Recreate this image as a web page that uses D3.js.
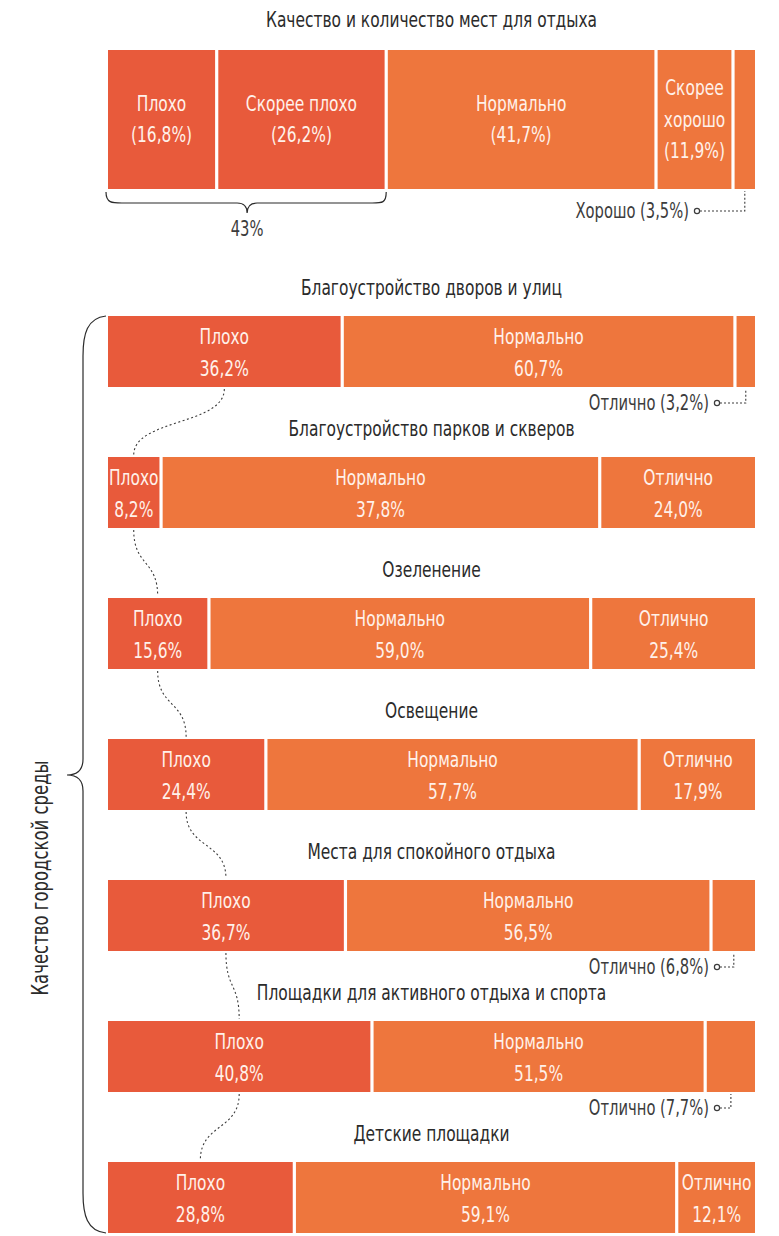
<!DOCTYPE html>
<html><head><meta charset="utf-8">
<script src="https://cdn.jsdelivr.net/npm/d3@7"></script>
<style>
html,body{margin:0;padding:0;background:#fff;}
svg{display:block;}
text{font-family:"Liberation Sans Narrow","DejaVu Sans Condensed","Liberation Sans",sans-serif;font-stretch:condensed;}
</style></head>
<body>
<svg id="chart" width="779" height="1236"></svg>
<script>
// ---- data ----
const topTitle = "Качество и количество мест для отдыха";
const topCategories = ["Плохо", "Скорее плохо", "Нормально", "Скорее хорошо", "Хорошо"];
const topValues = [16.8, 26.2, 41.7, 11.9, 3.5];
const topLabels = [["Плохо","(16,8%)"], ["Скорее плохо","(26,2%)"], ["Нормально","(41,7%)"], ["Скорее","хорошо","(11,9%)"], []];
const topCallout = "Хорошо (3,5%)";
const topBraceLabel = "43%";

const rowTitles = ["Благоустройство дворов и улиц", "Благоустройство парков и скверов", "Озеленение", "Освещение", "Места для спокойного отдыха", "Площадки для активного отдыха и спорта", "Детские площадки"];
const rowCategories = ["Плохо", "Нормально", "Отлично"];
const badValues = [36.2, 8.2, 15.6, 24.4, 36.7, 40.8, 28.8];
const normalValues = [60.7, 67.8, 59.0, 57.7, 56.5, 51.5, 59.1];
const excellentValues = [3.2, 24.0, 25.4, 17.9, 6.8, 7.7, 12.1];
const badLabels = ["36,2%", "8,2%", "15,6%", "24,4%", "36,7%", "40,8%", "28,8%"];
const normalLabels = ["60,7%", "37,8%", "59,0%", "57,7%", "56,5%", "51,5%", "59,1%"];
const excellentLabels = ["3,2%", "24,0%", "25,4%", "17,9%", "6,8%", "7,7%", "12,1%"];
const inlineExcellent = [false, true, true, true, false, false, true];
const sideLabel = "Качество городской среды";

// ---- style ----
const RED = "#E85A3B", ORANGE = "#EE763D", TXT_IN = "#fff1ea", DARK = "#2b2b2b", GREY = "#3c3c3c";
const SX = 0.78;
const FS = 22;
const svg = d3.select("#chart");
const x = d3.scaleLinear().domain([0, 100]).range([108, 755]);
const GAP = 1.6;

function txt(g, s, cx, cy, size, fill, anchor) {
  return g.append("text").attr("transform", `translate(${cx},${cy}) scale(${SX},1)`)
    .attr("text-anchor", anchor || "middle").attr("dominant-baseline", "central")
    .attr("font-size", size).attr("fill", fill).text(s);
}

function stack(vals) {
  let c = 0;
  return vals.map(v => { const s = c; c += v; return [s, c]; });
}

function segRect(g, s, e, i, n, y, h, color) {
  const x0 = x(s) + (i > 0 ? GAP : 0);
  const x1 = Math.min(x(e), x(100)) - (i < n - 1 ? GAP : 0);
  g.append("rect").attr("x", x0).attr("y", y).attr("width", Math.max(0, x1 - x0)).attr("height", h).attr("fill", color);
  return (x0 + x1) / 2;
}

function callout(g, label, segCx, barBottom, cy, circX) {
  g.append("path").attr("d", `M${circX + 3},${cy} H${segCx} V${barBottom + 2}`)
    .attr("fill", "none").attr("stroke", GREY).attr("stroke-width", 1.1).attr("stroke-dasharray", "2,2");
  g.append("circle").attr("cx", circX).attr("cy", cy).attr("r", 2.6).attr("fill", "#fff").attr("stroke", GREY).attr("stroke-width", 1.2);
  txt(g, label, circX - 8, cy, 21, GREY, "end");
}

// ---- top chart ----
const gt = svg.append("g");
txt(gt, topTitle, x(50), 20, FS, DARK);
const topY = 50, topH = 139;
const topStack = stack(topValues);
const topColor = d3.scaleOrdinal().domain(topCategories).range([RED, RED, ORANGE, ORANGE, ORANGE]);
let topCx = [];
topStack.forEach(([s, e], i) => {
  const cx = segRect(gt, s, e, i, topStack.length, topY, topH, topColor(topCategories[i]));
  topCx.push(cx);
  const lines = topLabels[i];
  const lh = 31.5;
  lines.forEach((l, j) => {
    txt(gt, l, cx, topY + topH / 2 + (j - (lines.length - 1) / 2) * lh, FS, TXT_IN);
  });
});
callout(gt, topCallout, topCx[4], topY + topH, 211, x(0) + 589);
// brace under first two
{
  const a = x(0), b = x(topStack[1][1]), m = (a + b) / 2, yb = 192, yl = 203, yt = 213;
  gt.append("path").attr("d",
    `M${a - 2},${yb} C${a - 2},${yl} ${a + 4},${yl} ${a + 14},${yl} L${m - 10},${yl} C${m - 4},${yl} ${m},${yl + 3} ${m},${yt} C${m},${yl + 3} ${m + 4},${yl} ${m + 10},${yl} L${b - 14},${yl} C${b - 4},${yl} ${b},${yl} ${b},${yb}`)
    .attr("fill", "none").attr("stroke", DARK).attr("stroke-width", 1.2);
  txt(gt, topBraceLabel, m, 229, 21, GREY);
}

// ---- rows ----
const rowY = d3.scaleLinear().domain([0, 6]).range([316, 1162]);
const rowH = 71;
const rowColor = d3.scaleOrdinal().domain(rowCategories).range([RED, ORANGE, ORANGE]);
const gr = svg.append("g");
const badCenters = [];
rowTitles.forEach((t, r) => {
  const y0 = rowY(r);
  txt(gr, t, x(50), y0 - 28, FS, DARK);
  const vals = [badValues[r], normalValues[r], excellentValues[r]];
  const labs = [badLabels[r], normalLabels[r], excellentLabels[r]];
  const st = stack(vals);
  st.forEach(([s, e], i) => {
    const cx = segRect(gr, s, e, i, 3, y0, rowH, rowColor(rowCategories[i]));
    if (i === 0) badCenters.push(cx);
    if (i < 2 || inlineExcellent[r]) {
      txt(gr, rowCategories[i], cx, y0 + rowH / 2 - 15, FS, TXT_IN);
      txt(gr, labs[i], cx, y0 + rowH / 2 + 17, FS, TXT_IN);
    } else {
      callout(gr, rowCategories[i] + " (" + labs[i] + ")", cx, y0 + rowH, y0 + rowH + 16, x(100) - 38);
    }
  });
});
// dotted connectors between "Плохо" segments
for (let r = 0; r < rowTitles.length - 1; r++) {
  const x1 = badCenters[r], y1 = rowY(r) + rowH + 2, x2 = badCenters[r + 1], y2 = rowY(r + 1) - 2;
  const k = (y2 - y1) * 0.55;
  gr.append("path").attr("d", `M${x1},${y1} C${x1},${y1 + k} ${x2},${y2 - k} ${x2},${y2}`)
    .attr("fill", "none").attr("stroke", GREY).attr("stroke-width", 1.1).attr("stroke-dasharray", "2,2.5");
}
// left brace
{
  const top = rowY(0), bot = rowY(6) + rowH, xv = 83, xt = 67, mid = 775, xe = 106;
  svg.append("path").attr("d",
    `M${xe},${top} C${xv + 4},${top + 2} ${xv},${top + 18} ${xv},${top + 40} L${xv},${mid - 16} C${xv},${mid - 5} ${xv - 5},${mid} ${xt},${mid} C${xv - 5},${mid} ${xv},${mid + 5} ${xv},${mid + 16} L${xv},${bot - 40} C${xv},${bot - 18} ${xv + 4},${bot - 2} ${xe},${bot}`)
    .attr("fill", "none").attr("stroke", DARK).attr("stroke-width", 1.2);
  svg.append("text").attr("transform", `translate(40,878) rotate(-90) scale(${SX},1)`)
    .attr("text-anchor", "middle").attr("dominant-baseline", "central")
    .attr("font-size", 23.5).attr("fill", DARK).text(sideLabel);
}
</script>
</body></html>
